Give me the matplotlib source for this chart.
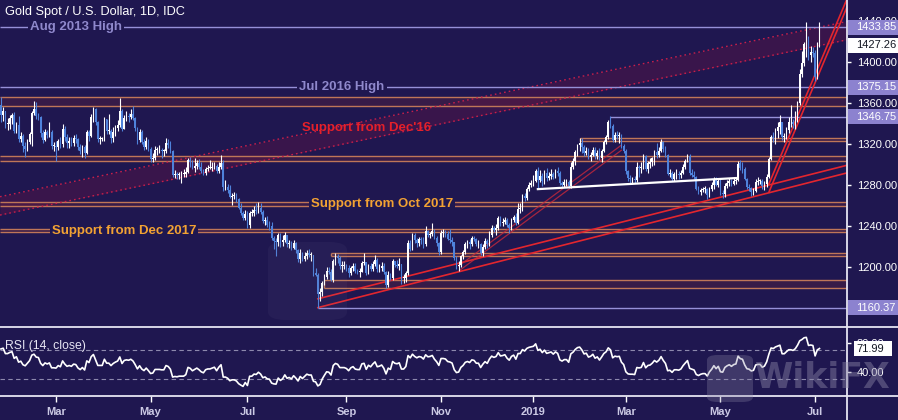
import numpy as np
import pandas as pd
import matplotlib
matplotlib.use("Agg")
import matplotlib.pyplot as plt
from matplotlib.patches import Rectangle, FancyBboxPatch
from matplotlib.lines import Line2D
from matplotlib.transforms import IdentityTransform

# ---------------------------------------------------------------- data
first_day = "2018-01-25"
last_day = "2019-07-03"
market_holidays = ["2018-12-25", "2019-01-01"]
first_open = 1358.0

closes = [
    1348, 1352, 1340, 1340, 1345,  # Jan 2018
    1348, 1333, 1339, 1325, 1328, 1318, 1315, 1322, 1330, 1350, 1354, 1347, 1346, 1331, 1324, 1332, 1329, 1332, 1318, 1318,
    1317, 1323, 1320, 1335, 1327, 1321, 1323, 1321, 1326, 1325, 1317, 1313, 1317, 1311, 1332, 1328, 1346, 1354, 1341, 1325, 1325, 1325,
    1344, 1333, 1333, 1326, 1332, 1336, 1339, 1352, 1335, 1345, 1347, 1346, 1349, 1345, 1336, 1324, 1332, 1322, 1317, 1323, 1315,
    1305, 1306, 1314, 1314, 1314, 1313, 1313, 1321, 1319, 1313, 1290, 1291, 1290, 1291, 1291, 1291, 1293, 1304, 1302, 1297, 1299, 1301, 1298,
    1294, 1292, 1296, 1297, 1297, 1298, 1299, 1294, 1298, 1301, 1278, 1278, 1275, 1268, 1269, 1269, 1266, 1258, 1253, 1248, 1252,
    1241, 1253, 1253, 1256, 1255, 1258, 1254, 1245, 1246, 1241, 1240, 1228, 1225, 1224, 1231, 1224, 1226, 1231, 1222, 1223, 1219, 1223,
    1217, 1208, 1214, 1208, 1211, 1214, 1212, 1212, 1194, 1192, 1174, 1176, 1184, 1190, 1196, 1195, 1187, 1206, 1211, 1209, 1201, 1201, 1201,
    1199, 1194, 1199, 1201, 1196, 1195, 1195, 1204, 1205, 1194, 1201, 1198, 1203, 1207, 1198, 1199, 1201, 1195, 1182, 1192,
    1189, 1206, 1202, 1201, 1203, 1189, 1189, 1194, 1223, 1218, 1231, 1226, 1223, 1227, 1226, 1222, 1235, 1231, 1232, 1235, 1228, 1223, 1215,
    1233, 1233, 1232, 1227, 1226, 1224, 1209, 1201, 1202, 1211, 1215, 1222, 1224, 1222, 1228, 1227, 1222, 1222, 1214, 1220, 1225, 1222,
    1231, 1238, 1236, 1238, 1248, 1243, 1244, 1246, 1241, 1238, 1246, 1249, 1243, 1257, 1257, 1269, 1267, 1276, 1280, 1282,
    1284, 1294, 1285, 1289, 1284, 1292, 1287, 1289, 1291, 1288, 1294, 1292, 1282, 1280, 1283, 1283, 1279, 1298, 1303, 1312, 1319, 1321,
    1317, 1311, 1313, 1307, 1309, 1314, 1308, 1311, 1306, 1313, 1322, 1327, 1341, 1338, 1324, 1329, 1328, 1329, 1318, 1313,
    1294, 1287, 1286, 1286, 1285, 1298, 1297, 1298, 1308, 1296, 1301, 1302, 1306, 1312, 1309, 1313, 1322, 1315, 1309, 1291, 1292,
    1286, 1291, 1291, 1290, 1292, 1298, 1303, 1308, 1292, 1290, 1288, 1276, 1273, 1275, 1276, 1276, 1270, 1276, 1280, 1286, 1280, 1284,
    1272, 1271, 1279, 1282, 1284, 1281, 1284, 1285, 1301, 1297, 1296, 1286, 1278, 1277, 1273, 1274, 1283, 1284, 1284, 1279, 1281, 1288, 1305,
    1327, 1326, 1333, 1337, 1341, 1327, 1327, 1334, 1341, 1341, 1340, 1346, 1360, 1388, 1399, 1418, 1423, 1407.1, 1410, 1409,
    1385, 1418, 1427.26,  # Jul 2019
]

highs = [
    1366, 1356, 1352, 1345, 1348,
    1350, 1351, 1341, 1347, 1332, 1330, 1322, 1325, 1332, 1352, 1362, 1361, 1350, 1347, 1334, 1335, 1334, 1341, 1334, 1322,
    1323, 1325, 1327, 1340, 1338, 1330, 1327, 1327, 1329, 1330, 1326, 1320, 1319, 1319, 1334, 1334, 1349, 1356, 1355, 1342, 1328, 1327,
    1346, 1344, 1349, 1335, 1337, 1339, 1343, 1365, 1354, 1348, 1352, 1350, 1354, 1357, 1346, 1337, 1335, 1334, 1325, 1327, 1325,
    1317, 1311, 1318, 1317, 1319, 1316, 1315, 1326, 1325, 1323, 1314, 1295, 1293, 1293, 1294, 1296, 1298, 1306, 1307, 1304, 1306, 1304, 1305,
    1302, 1296, 1298, 1300, 1304, 1302, 1302, 1301, 1302, 1309, 1304, 1285, 1281, 1280, 1272, 1273, 1272, 1267, 1262, 1255, 1256,
    1255, 1255, 1257, 1260, 1262, 1263, 1262, 1256, 1249, 1250, 1245, 1244, 1230, 1228, 1233, 1233, 1231, 1234, 1231, 1226, 1225, 1226,
    1224, 1218, 1218, 1215, 1215, 1217, 1218, 1215, 1212, 1199, 1194, 1180, 1186, 1193, 1200, 1200, 1198, 1208, 1214, 1213, 1211, 1206, 1206,
    1203, 1202, 1201, 1204, 1204, 1198, 1199, 1206, 1214, 1205, 1203, 1204, 1206, 1212, 1209, 1203, 1205, 1204, 1196, 1196,
    1194, 1208, 1206, 1207, 1209, 1203, 1193, 1196, 1226, 1226, 1233, 1233, 1228, 1229, 1229, 1229, 1240, 1236, 1234, 1243, 1237, 1230, 1224,
    1236, 1237, 1236, 1235, 1237, 1229, 1224, 1211, 1206, 1212, 1217, 1224, 1226, 1227, 1230, 1230, 1228, 1226, 1223, 1222, 1228, 1227,
    1235, 1241, 1240, 1242, 1250, 1250, 1248, 1249, 1248, 1243, 1248, 1251, 1253, 1262, 1262, 1271, 1272, 1278, 1283, 1285,
    1290, 1296, 1298, 1295, 1292, 1295, 1297, 1293, 1296, 1293, 1296, 1298, 1294, 1284, 1286, 1286, 1285, 1302, 1306, 1314, 1320, 1326,
    1326, 1319, 1317, 1316, 1312, 1317, 1317, 1314, 1316, 1315, 1324, 1329, 1343, 1347, 1340, 1332, 1333, 1332, 1330, 1320,
    1315, 1295, 1290, 1288, 1289, 1302, 1300, 1302, 1310, 1309, 1303, 1306, 1307, 1314, 1321, 1317, 1325, 1323, 1318, 1310, 1296,
    1294, 1293, 1296, 1294, 1295, 1301, 1305, 1310, 1310, 1296, 1294, 1289, 1279, 1277, 1278, 1279, 1277, 1278, 1283, 1288, 1288, 1287,
    1286, 1275, 1282, 1285, 1287, 1286, 1288, 1288, 1303, 1304, 1302, 1298, 1287, 1281, 1278, 1277, 1286, 1288, 1286, 1286, 1284, 1291, 1307,
    1329, 1332, 1336, 1341, 1348, 1341, 1331, 1337, 1346, 1358, 1344, 1352, 1362, 1393, 1411, 1420, 1439, 1425, 1416, 1415,
    1412, 1420, 1439,
]

lows = [
    1341, 1342, 1336, 1334, 1335,
    1340, 1331, 1331, 1322, 1322, 1312, 1307, 1313, 1320, 1318, 1348, 1344, 1343, 1327, 1321, 1323, 1326, 1327, 1315, 1313,
    1303, 1314, 1316, 1317, 1323, 1316, 1316, 1318, 1318, 1321, 1314, 1310, 1307, 1306, 1310, 1323, 1327, 1341, 1339, 1322, 1320, 1323,
    1323, 1330, 1330, 1321, 1322, 1328, 1333, 1337, 1333, 1335, 1342, 1341, 1344, 1343, 1333, 1320, 1322, 1320, 1314, 1315, 1313,
    1302, 1302, 1304, 1309, 1311, 1306, 1308, 1311, 1316, 1311, 1288, 1287, 1286, 1286, 1282, 1288, 1288, 1292, 1298, 1296, 1293, 1296, 1296,
    1292, 1290, 1290, 1294, 1296, 1294, 1296, 1292, 1292, 1296, 1274, 1275, 1272, 1267, 1261, 1266, 1263, 1257, 1251, 1246, 1246,
    1238, 1238, 1250, 1250, 1252, 1253, 1252, 1243, 1241, 1239, 1236, 1226, 1218, 1211, 1221, 1220, 1221, 1224, 1220, 1219, 1217, 1218,
    1214, 1205, 1204, 1206, 1206, 1208, 1210, 1206, 1191, 1191, 1160, 1167, 1172, 1182, 1188, 1193, 1186, 1185, 1202, 1204, 1198, 1195, 1198,
    1196, 1190, 1192, 1196, 1194, 1193, 1190, 1195, 1202, 1192, 1193, 1196, 1196, 1201, 1195, 1195, 1196, 1193, 1180, 1181,
    1187, 1187, 1200, 1199, 1197, 1183, 1184, 1185, 1192, 1216, 1217, 1223, 1220, 1221, 1222, 1219, 1221, 1229, 1228, 1230, 1227, 1221, 1212,
    1213, 1229, 1229, 1226, 1223, 1221, 1207, 1198, 1196, 1200, 1208, 1213, 1219, 1218, 1221, 1225, 1221, 1219, 1212, 1211, 1218, 1219,
    1221, 1229, 1234, 1231, 1236, 1240, 1240, 1242, 1239, 1233, 1236, 1244, 1241, 1242, 1253, 1255, 1264, 1265, 1274, 1278,
    1279, 1283, 1276, 1283, 1279, 1281, 1284, 1285, 1286, 1286, 1287, 1289, 1280, 1278, 1278, 1279, 1277, 1277, 1296, 1300, 1308, 1313,
    1311, 1308, 1309, 1305, 1303, 1308, 1305, 1305, 1304, 1302, 1312, 1320, 1325, 1336, 1322, 1322, 1325, 1321, 1316, 1311,
    1291, 1284, 1282, 1281, 1282, 1283, 1288, 1292, 1296, 1294, 1292, 1297, 1299, 1300, 1306, 1307, 1312, 1312, 1307, 1290, 1288,
    1284, 1284, 1286, 1286, 1287, 1291, 1296, 1302, 1290, 1288, 1286, 1275, 1271, 1270, 1273, 1272, 1266, 1268, 1274, 1276, 1279, 1278,
    1270, 1267, 1268, 1277, 1279, 1279, 1280, 1281, 1284, 1295, 1292, 1285, 1276, 1274, 1269, 1270, 1273, 1280, 1281, 1276, 1275, 1278, 1287,
    1304, 1322, 1320, 1326, 1330, 1324, 1322, 1325, 1331, 1337, 1336, 1335, 1341, 1358, 1385, 1396, 1405, 1402, 1400, 1405,
    1381, 1383, 1415,
]

# key horizontal levels
level_values = [1433.85, 1375.15, 1346.75, 1160.37]
level_names = ["Aug 2013 High", "Jul 2016 High", "", ""]
level_starts = [None, None, "2019-02-20", "2018-08-15"]

# support zones (lower, upper, first day drawn)
zone_low = [1357.0, 1323.0, 1303.0, 1260.0, 1234.0, 1210.5, 1180.0]
zone_high = [1366.0, 1326.0, 1308.0, 1263.0, 1237.0, 1213.5, 1187.0]
zone_start = [None, "2019-01-31", None, None, None, "2018-08-23", "2018-08-20"]

# trendline anchors: (day, price)
dec16_anchor = [("2018-01-25", 1268.8), ("2019-07-03", 1434.0)]
dec16_width = 17.9
aug18_lower = [("2018-08-15", 1160.4), ("2019-07-03", 1285.0)]
aug18_upper = [("2018-08-15", 1169.0), ("2019-07-03", 1292.5)]
nov18_anchor = [("2018-11-13", 1201.0), ("2019-02-27", 1319.0)]
nov18_gap = 5.0
may19_anchor = [("2019-05-31", 1281.0), ("2019-07-03", 1398.0)]
may19_gap = 8.0
neckline = [("2019-01-04", 1276.0), ("2019-05-10", 1286.8)]

month_ticks = ["2018-03-01", "2018-05-01", "2018-07-02", "2018-09-03", "2018-11-01",
               "2019-01-02", "2019-03-01", "2019-05-01", "2019-07-01"]
month_labels = ["Mar", "May", "Jul", "Sep", "Nov", "2019", "Mar", "May", "Jul"]

price_ticks = [1200, 1240, 1280, 1320, 1360, 1400, 1440]
rsi_ticks = [40, 80]
rsi_bands = [70, 30]
rsi_period = 14
rsi_seed_gain, rsi_seed_loss = 6.0, 2.4

# ---------------------------------------------------------------- style
BG = "#1f1750"
UP = "#ffffff"
DOWN = "#4f82db"
LAV = "#9690d8"
LAV_TXT = "#8f88cc"
LAV_BOX = "#8c82cf"
ZONE_LINE = "#bf7658"
ZONE_FILL = "#4c1f42"
RED = "#e3262e"
DOT_RED = "#c81e4a"
ORANGE = "#f2a233"
SEP = "#e6e4f2"
NUM_FONT = "Liberation Sans"
SCALE_SIZE = 8.0

W, H = 898, 420


def fx(px):
    return px / W


def fy(py):
    return 1 - py / H


dates = pd.bdate_range(first_day, last_day)
dates = dates[~dates.isin(pd.to_datetime(market_holidays))]
n = min(len(dates), len(closes))
dates = dates[:n]
c = np.asarray(closes[:n], float)
hi = np.asarray(highs[:n], float)
lo = np.asarray(lows[:n], float)
o = np.r_[first_open, c[:-1]]
hi = np.maximum(hi, np.maximum(o, c))
lo = np.minimum(lo, np.minimum(o, c))
x = np.arange(n)


def pos(day):
    return dates.get_indexer([pd.Timestamp(day)], method="nearest")[0]


fig = plt.figure(figsize=(W / 100, H / 100), dpi=100)
fig.patch.set_facecolor(BG)
ax = fig.add_axes([0, fy(327), fx(847), 327 / H])
axr = fig.add_axes([0, fy(396), fx(847), (396 - 327) / H], sharex=ax)
for a in (ax, axr):
    a.set_facecolor(BG)
    for s in a.spines.values():
        s.set_visible(False)

XL = (-0.45, 384.5)
ax.set_xlim(*XL)
ax.set_ylim(1141.5, 1460.5)
axr.set_ylim(6.5, 101.7)

# ---- support zones
for zl, zh, zs in zip(zone_low, zone_high, zone_start):
    x0 = XL[0] if zs is None else pos(zs)
    ax.fill_between([x0, XL[1]], zl, zh, color=ZONE_FILL, alpha=0.55, lw=0, zorder=1)
    ax.hlines([zl, zh], x0, XL[1], color=ZONE_LINE, lw=1.0, zorder=2)
    if zs is not None:
        ax.vlines(x0, zl, zh, color=ZONE_LINE, lw=1.0, zorder=2)

# ---- Dec'16 rising channel (dotted)
i0, i1 = pos(dec16_anchor[0][0]), pos(dec16_anchor[1][0])
p0, p1 = dec16_anchor[0][1], dec16_anchor[1][1]
k = (p1 - p0) / (i1 - i0)
xs = np.array(XL)
up_line = p0 + k * (xs - i0)
ax.fill_between(xs, up_line - dec16_width, up_line, color="#6a1444", alpha=0.35, lw=0, zorder=1)
ax.plot(xs, up_line, color=DOT_RED, lw=1.0, ls=(0, (1.2, 2.2)), zorder=2)
ax.plot(xs, up_line - dec16_width, color=DOT_RED, lw=1.0, ls=(0, (1.2, 2.2)), zorder=2)


def ray(anchor, offset=0.0, to_edge=True, **kw):
    (d0, q0), (d1, q1) = anchor
    a0, a1 = pos(d0), pos(d1)
    slope = (q1 - q0) / (a1 - a0)
    xe = XL[1] if to_edge else a1
    ax.plot([a0, xe], [q0 + offset, q0 + offset + slope * (xe - a0)], **kw)


ray(aug18_lower, color=RED, lw=1.2, zorder=3)
ray(aug18_upper, color=RED, lw=1.2, zorder=3)
ray(nov18_anchor, to_edge=False, color="#c8283a", lw=0.9, alpha=0.8, zorder=3)
ray(nov18_anchor, offset=-nov18_gap, to_edge=False, color="#c8283a", lw=0.9, alpha=0.8, zorder=3)
ray(may19_anchor, color=RED, lw=1.2, zorder=3)
ray(may19_anchor, offset=-may19_gap, color=RED, lw=1.2, zorder=3)
ray(neckline, to_edge=False, color="white", lw=1.6, zorder=6)

# ---- horizontal levels
for v, name, st in zip(level_values, level_names, level_starts):
    x0 = XL[0] if st is None else pos(st)
    ax.hlines(v, x0, XL[1], color=LAV, lw=1.0, zorder=2)

# ---- candles
upm = c >= o
body_lo = np.minimum(o, c)
body_h = np.maximum(np.abs(c - o), 0.9)
for m, col in ((upm, UP), (~upm, DOWN)):
    ax.vlines(x[m], lo[m], hi[m], color=col, lw=0.8, zorder=4)
    ax.bar(x[m], body_h[m], bottom=body_lo[m], width=0.72, color=col, lw=0, zorder=5)

# ---- text annotations
bgbox = dict(boxstyle="square,pad=0.15", fc=BG, ec="none")
ax.text(pos("2018-03-14"), level_values[0], level_names[0], color=LAV_TXT, fontsize=9.5,
        fontweight="bold", family=NUM_FONT, ha="center", va="center", bbox=bgbox, zorder=7)
ax.text(pos("2018-08-30"), level_values[1], level_names[1], color=LAV_TXT, fontsize=9.5,
        fontweight="bold", family=NUM_FONT, ha="center", va="center", bbox=bgbox, zorder=7)
ax.text(pos("2018-09-14"), 1335.6, "Support from Dec'16", color="#e5202a", fontsize=9.5,
        fontweight="bold", family=NUM_FONT, ha="center", va="center", zorder=7)
ax.text(pos("2018-09-25"), 1261.5, "Support from Oct 2017", color=ORANGE, fontsize=9.5,
        fontweight="bold", family=NUM_FONT, ha="center", va="center", bbox=bgbox, zorder=7)
ax.text(pos("2018-04-13"), 1235.5, "Support from Dec 2017", color=ORANGE, fontsize=9.5,
        fontweight="bold", family=NUM_FONT, ha="center", va="center", bbox=bgbox, zorder=7)

# ---- price scale on the right
ax.yaxis.tick_right()
ax.set_yticks(price_ticks)
ax.yaxis.set_major_formatter(matplotlib.ticker.StrMethodFormatter("{x:.2f}"))
ax.tick_params(axis="y", colors="white", length=3, width=1, pad=4, labelsize=SCALE_SIZE)
for t in ax.get_yticklabels():
    t.set_family(NUM_FONT)
ax.tick_params(axis="x", bottom=False, labelbottom=False)

# ---- RSI
delta = np.diff(c)
g = np.clip(delta, 0, None)
l = np.clip(-delta, 0, None)
ag, al = rsi_seed_gain, rsi_seed_loss
rsi = [100 - 100 / (1 + ag / al)]
for gi, li in zip(g, l):
    ag = (ag * (rsi_period - 1) + gi) / rsi_period
    al = (al * (rsi_period - 1) + li) / rsi_period
    rsi.append(100 - 100 / (1 + ag / al))
rsi = np.array(rsi)
axr.plot(x, rsi, color="white", lw=1.2, zorder=4)
for b in rsi_bands:
    axr.axhline(b, color="#8d89ad", lw=0.8, ls=(0, (4, 3)), zorder=2)
axr.yaxis.tick_right()
axr.set_yticks(rsi_ticks)
axr.yaxis.set_major_formatter(matplotlib.ticker.StrMethodFormatter("{x:.2f}"))
axr.tick_params(axis="y", colors="white", length=3, width=1, pad=4, labelsize=SCALE_SIZE)
for t in axr.get_yticklabels():
    t.set_family(NUM_FONT)
axr.set_xticks([pos(d) for d in month_ticks])
axr.set_xticklabels(month_labels)
axr.tick_params(axis="x", colors="white", labelcolor="#cbc9e4", length=4, width=1, pad=4, labelsize=8)
for t in axr.get_xticklabels():
    t.set_family(NUM_FONT)
    t.set_fontweight("bold")
axr.text(0.006, 0.73, f"RSI ({rsi_period}, close)", transform=axr.transAxes, color="#e8e6f4",
         fontsize=8.8, family=NUM_FONT, va="center", ha="left")

# ---- title
fig.text(fx(5), fy(12), "Gold Spot / U.S. Dollar, 1D, IDC", color="white", fontsize=9.2,
         family=NUM_FONT, va="center", ha="left")

# ---- panel separators
for yy in (327, 396):
    fig.add_artist(Line2D([0, 1], [fy(yy), fy(yy)], transform=fig.transFigure, color=SEP, lw=1.3))
fig.add_artist(Line2D([fx(847), fx(847)], [0, 1], transform=fig.transFigure, color=SEP, lw=1.3))


# ---- value boxes on the scale
def scale_box(axis, value, text, face, color, shift_px=0.0, x0=848, x1=898):
    py = axis.transData.transform((0, value))[1] - shift_px
    fig.add_artist(Rectangle((x0, py - 7.5), x1 - x0, 15, transform=IdentityTransform(),
                             fc=face, ec="none", zorder=5))
    fig.add_artist(matplotlib.text.Text(856, py, text, transform=IdentityTransform(), color=color,
                                        fontsize=SCALE_SIZE, family=NUM_FONT, va="center", ha="left",
                                        zorder=6))


for v in level_values:
    scale_box(ax, v, f"{v:.2f}", LAV_BOX, "white")
scale_box(ax, c[-1], f"{c[-1]:.2f}", "white", "#131722", shift_px=11)
scale_box(axr, rsi[-1], f"{rsi[-1]:.2f}", "white", "#131722", x0=854, x1=892)

# ---- faint watermark
fig.add_artist(FancyBboxPatch((fx(707), fy(402)), fx(46), 47 / H, boxstyle="round,pad=0,rounding_size=0.012",
                              transform=fig.transFigure, fc="#8a86a6", ec="none", alpha=0.3, zorder=4))
fig.text(fx(823), fy(378), "WikiFX", color="#8a86a6", alpha=0.45, fontsize=25, fontweight="bold",
         family="DejaVu Sans", ha="center", va="center", zorder=4)
fig.add_artist(FancyBboxPatch((fx(268), fy(320)), fx(79), 78 / H, boxstyle="round,pad=0,rounding_size=0.02",
                              transform=fig.transFigure, fc="#8a86a6", ec="none", alpha=0.07, zorder=4))

fig.savefig("out.png", dpi=100, facecolor=BG)
